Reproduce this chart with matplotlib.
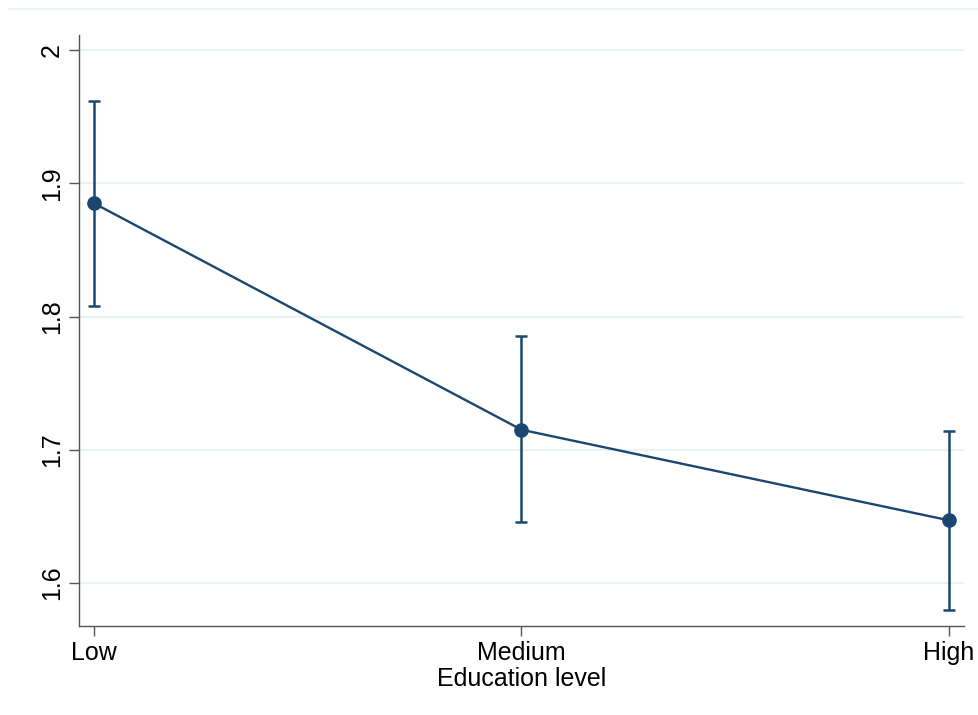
import matplotlib
matplotlib.use("Agg")
import matplotlib.pyplot as plt
from matplotlib.lines import Line2D
import numpy as np

categories = ["Low", "Medium", "High"]
means = [1.885, 1.715, 1.647]
ci_low = [1.808, 1.646, 1.580]
ci_high = [1.962, 1.785, 1.714]
yticks = [1.6, 1.7, 1.8, 1.9, 2.0]
ytick_labels = ["1.6", "1.7", "1.8", "1.9", "2"]

plt.rcParams['font.family'] = ['Liberation Sans', 'DejaVu Sans']

navy = "#1a476f"
grid_c = "#eaf2f3"
axis_c = "#555555"

fig = plt.figure(figsize=(9.79, 7.15), dpi=100)
ax = fig.add_axes([79/979, 1-626/715, (964-79)/979, (626-35)/715])

x = np.arange(1, len(categories)+1)
m = np.array(means)
lo = m - np.array(ci_low)
hi = np.array(ci_high) - m

ax.errorbar(x, m, yerr=[lo, hi], fmt='none', ecolor=navy, elinewidth=1.8,
            capsize=4.5, capthick=1.8, zorder=3)
ax.plot(x, m, color=navy, lw=1.7, marker='o', markersize=9.5, zorder=4)

ax.set_xlim(0.965, 3.035)
ax.set_ylim(1.5677, 2.0113)
ax.set_yticks(yticks)
ax.set_yticklabels(ytick_labels, rotation=90, va='center')
ax.set_xticks(x)
ax.set_xticklabels(categories)

for yv in yticks:
    ax.axhline(yv, color=grid_c, lw=1.5, zorder=0)

for s in ['top', 'right']:
    ax.spines[s].set_visible(False)
for s in ['left', 'bottom']:
    ax.spines[s].set_color(axis_c)
    ax.spines[s].set_linewidth(1.0)

ax.tick_params(axis='both', colors=axis_c, labelcolor='black', labelsize=18,
               length=7, width=1.0)
ax.tick_params(axis='y', pad=4)
ax.tick_params(axis='x', pad=4)
ax.set_xlabel("Education level", fontsize=18, labelpad=1)

fig.add_artist(Line2D([9/979, 1.0], [1-9/715, 1-9/715], color=grid_c, lw=1.5,
                      transform=fig.transFigure))

fig.savefig("out.png", dpi=100)
